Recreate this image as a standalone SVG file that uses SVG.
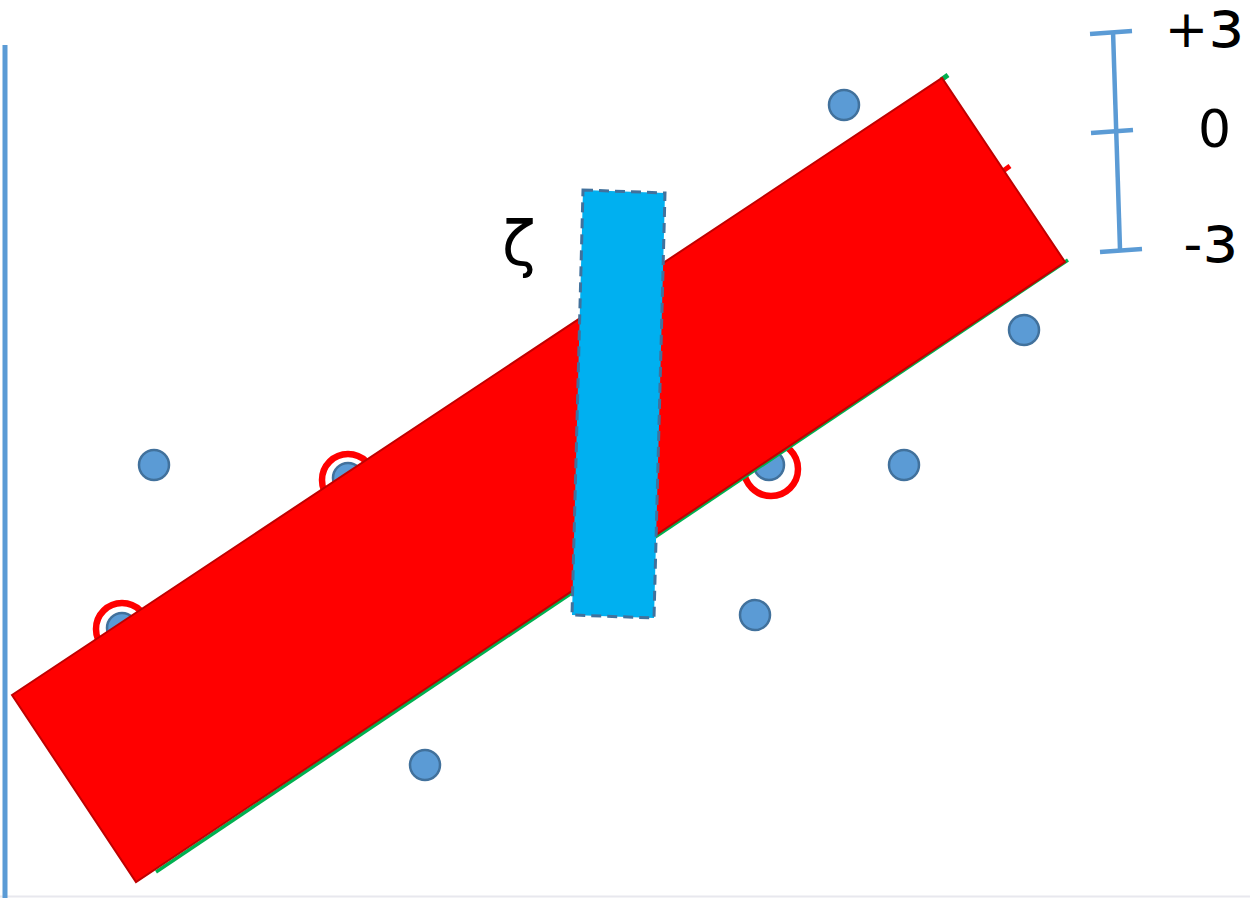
<svg xmlns="http://www.w3.org/2000/svg" width="1250" height="898" viewBox="0 0 1250 898">
<style>
.dot{fill:#5b9bd5;stroke:#41719c;stroke-width:2.5}
.ring{fill:none;stroke:#ff0000;stroke-width:6.5}
.scale{stroke:#5b9bd5;stroke-width:4.5;fill:none}
.lbl{font-family:"DejaVu Sans","Liberation Sans",sans-serif;font-size:52px;fill:#000}
.eps{font-size:66px}
</style>
<rect width="1250" height="898" fill="#fff"/>
<line x1="0" y1="896.5" x2="1250" y2="896.5" stroke="#e8e8ee" stroke-width="2"/>
<line id="axis" x1="5" y1="45" x2="5" y2="898" stroke="#5b9bd5" stroke-width="5"/>
<g id="rings">
<circle class="ring" cx="122" cy="629" r="26"/>
<circle class="ring" cx="348" cy="480" r="26"/>
<circle class="ring" cx="771" cy="469" r="27"/>
</g>
<g id="dots">
<circle class="dot" cx="844" cy="105" r="15"/>
<circle class="dot" cx="1024" cy="330" r="15"/>
<circle class="dot" cx="154" cy="465" r="15"/>
<circle class="dot" cx="904" cy="465" r="15"/>
<circle class="dot" cx="769" cy="465" r="15"/>
<circle class="dot" cx="755" cy="615" r="15"/>
<circle class="dot" cx="425" cy="765" r="15"/>
<circle class="dot" cx="348" cy="478" r="15"/>
<circle class="dot" cx="122" cy="628" r="15"/>
</g>
<g id="band">
<line x1="156" y1="872" x2="1068" y2="260" stroke="#00b050" stroke-width="3.5"/>
<line x1="941" y1="80" x2="948" y2="75" stroke="#00b050" stroke-width="5"/>
<line x1="1003" y1="171" x2="1010" y2="166" stroke="#ff0000" stroke-width="5"/>
<polygon points="12,695 942,78 1065,262 136,882" fill="#ff0000" stroke="#c00000" stroke-width="2"/>
</g>
<g id="zeta-bar">
<polygon points="583,190 665,193 654,618 572,615" fill="#00b0f0" stroke="#41719c" stroke-width="3" stroke-dasharray="10,6"/>
</g>
<g id="scale">
<line class="scale" x1="1113" y1="31" x2="1120" y2="249"/>
<line class="scale" x1="1090" y1="34" x2="1132" y2="31"/>
<line class="scale" x1="1091" y1="133" x2="1133" y2="130"/>
<line class="scale" x1="1100" y1="252" x2="1142" y2="249"/>
</g>
<g id="labels">
<text class="lbl" transform="translate(1244,47) scale(-1,1)"><tspan class="eps">ε</tspan>+</text>
<text class="lbl" x="1198" y="147">0</text>
<text class="lbl" transform="translate(1238,262) scale(-1,1)"><tspan class="eps">ε</tspan>-</text>
<text class="lbl" x="502" y="265" style="font-size:62px">ζ</text>
</g>
</svg>
